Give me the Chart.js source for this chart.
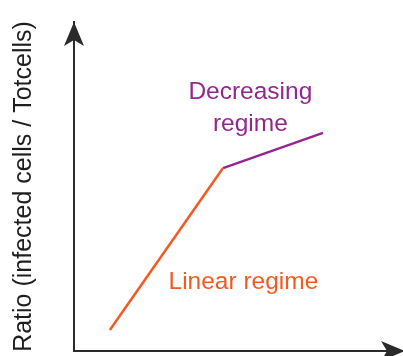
<!DOCTYPE html>
<html>
<head>
<meta charset="utf-8">
<script src="https://cdn.jsdelivr.net/npm/chart.js@4/dist/chart.umd.min.js"></script>
<style>
  html, body { margin: 0; padding: 0; background: #fff; }
  #chart { display: block; }
</style>
</head>
<body>
<canvas id="chart" width="403" height="356"></canvas>
<script>
// schematic values, axes run 0..10 with no ticks
const linearX = [1.09, 4.53];
const linearY = [0.64, 5.56];
const decreasingX = [4.53, 7.57];
const decreasingY = [5.56, 6.63];
const yTitle = 'Ratio (infected cells / Totcells)';
const linearLabel = ['Linear regime'];
const decreasingLabel = ['Decreasing', 'regime'];

const orange = '#f25a24';
const purple = '#93278f';
const axisColor = '#2b2b2b';

const toPoints = (xs, ys) => xs.map((x, i) => ({ x, y: ys[i] }));

// arrowheads on the axes + the two regime captions
const schematic = {
    id: 'schematic',
    afterDraw(chart, args, opts) {
        const { ctx, chartArea: area, scales } = chart;
        ctx.save();
        ctx.fillStyle = axisColor;

        // y axis arrow (pointing up)
        ctx.beginPath();
        ctx.moveTo(area.left, area.top);
        ctx.lineTo(area.left - 10, area.top + 24);
        ctx.lineTo(area.left, area.top + 18);
        ctx.lineTo(area.left + 10, area.top + 24);
        ctx.closePath();
        ctx.fill();

        // x axis arrow (pointing right)
        const tip = area.right + 2;
        ctx.beginPath();
        ctx.moveTo(tip, area.bottom);
        ctx.lineTo(tip - 24, area.bottom - 10);
        ctx.lineTo(tip - 18, area.bottom);
        ctx.lineTo(tip - 24, area.bottom + 10);
        ctx.closePath();
        ctx.fill();

        ctx.font = '24.5px "Liberation Sans", Arial, sans-serif';
        ctx.textAlign = 'center';
        ctx.textBaseline = 'alphabetic';
        opts.notes.forEach(note => {
            ctx.fillStyle = note.color;
            const px = scales.x.getPixelForValue(note.x);
            note.lines.forEach((line, i) => {
                const py = scales.y.getPixelForValue(note.y[i]);
                ctx.fillText(line, px, py);
            });
        });
        ctx.restore();
    }
};

new Chart(document.getElementById('chart'), {
    type: 'line',
    data: {
        datasets: [{
            label: 'Linear regime',
            data: toPoints(linearX, linearY),
            borderColor: orange,
            borderWidth: 2.5,
            pointRadius: 0
        }, {
            label: 'Decreasing regime',
            data: toPoints(decreasingX, decreasingY),
            borderColor: purple,
            borderWidth: 2.5,
            pointRadius: 0
        }]
    },
    options: {
        responsive: false,
        animation: false,
        devicePixelRatio: 1,
        layout: { padding: { top: 22, right: 0, bottom: 5, left: 0 } },
        plugins: {
            legend: { display: false },
            tooltip: { enabled: false },
            schematic: {
                notes: [
                    { lines: decreasingLabel, color: purple, x: 5.36, y: [7.66, 6.69] },
                    { lines: linearLabel, color: orange, x: 5.15, y: [1.88] }
                ]
            }
        },
        scales: {
            x: {
                type: 'linear',
                min: 0,
                max: 10,
                ticks: { display: false },
                grid: { display: false, drawTicks: false },
                border: { display: true, color: axisColor, width: 2 }
            },
            y: {
                min: 0,
                max: 10,
                ticks: { display: false },
                grid: { display: false, drawTicks: false },
                border: { display: true, color: axisColor, width: 2 },
                title: {
                    display: true,
                    text: yTitle,
                    color: '#1e1e1e',
                    font: { size: 25, family: '"Liberation Sans", Arial, sans-serif' },
                    padding: { top: 9, bottom: 35 }
                }
            }
        }
    },
    plugins: [schematic]
});
</script>
</body>
</html>
